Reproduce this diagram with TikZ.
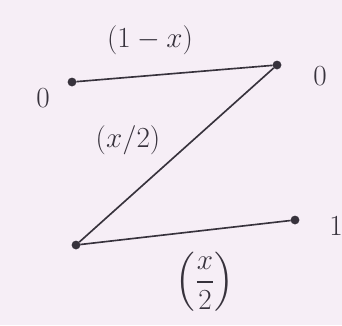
\documentclass[tikz,border=0pt]{standalone}
\usepackage{amsmath,amssymb}
\usepackage{xcolor}
\usetikzlibrary{positioning}

\definecolor{paper}{RGB}{246,238,246}
\definecolor{ink}{RGB}{55,50,60}

\begin{document}
\begin{tikzpicture}[
    x=0.03cm, y=-0.03cm,
    dot/.style={circle, fill=ink, draw=ink, inner sep=0pt, minimum size=7pt},
    sym/.style={text=ink, font=\fontsize{34}{40}\selectfont},
    prob/.style={text=ink, font=\fontsize{28}{34}\selectfont},
    edge/.style={draw=ink, line width=1.4pt}
]
\fill[paper] (0,0) rectangle (342,325);
\useasboundingbox (0,0) rectangle (342,325);

\node[dot] (in0)  at (72,82)  {};
\node[dot] (in1)  at (76,245) {};
\node[dot] (out0) at (277,65) {};
\node[dot] (out1) at (295,220) {};

\node[sym] (x0) at (43,98)   {$0$};
\node[sym] (y0) at (320,76)  {$0$};
\node[sym] (y1) at (336,226) {$1$};

\draw[edge] (in0) -- (out0);
\draw[edge] (in1) -- (out0);
\draw[edge] (in1) -- (out1);

\node[prob] (p00) at (150,40)  {$(1-x)$};
\node[prob] (p10) at (128,140) {$(x/2)$};
\node[prob] (p11) at (205,282) {$\left(\dfrac{x}{2}\right)$};
\end{tikzpicture}
\end{document}
